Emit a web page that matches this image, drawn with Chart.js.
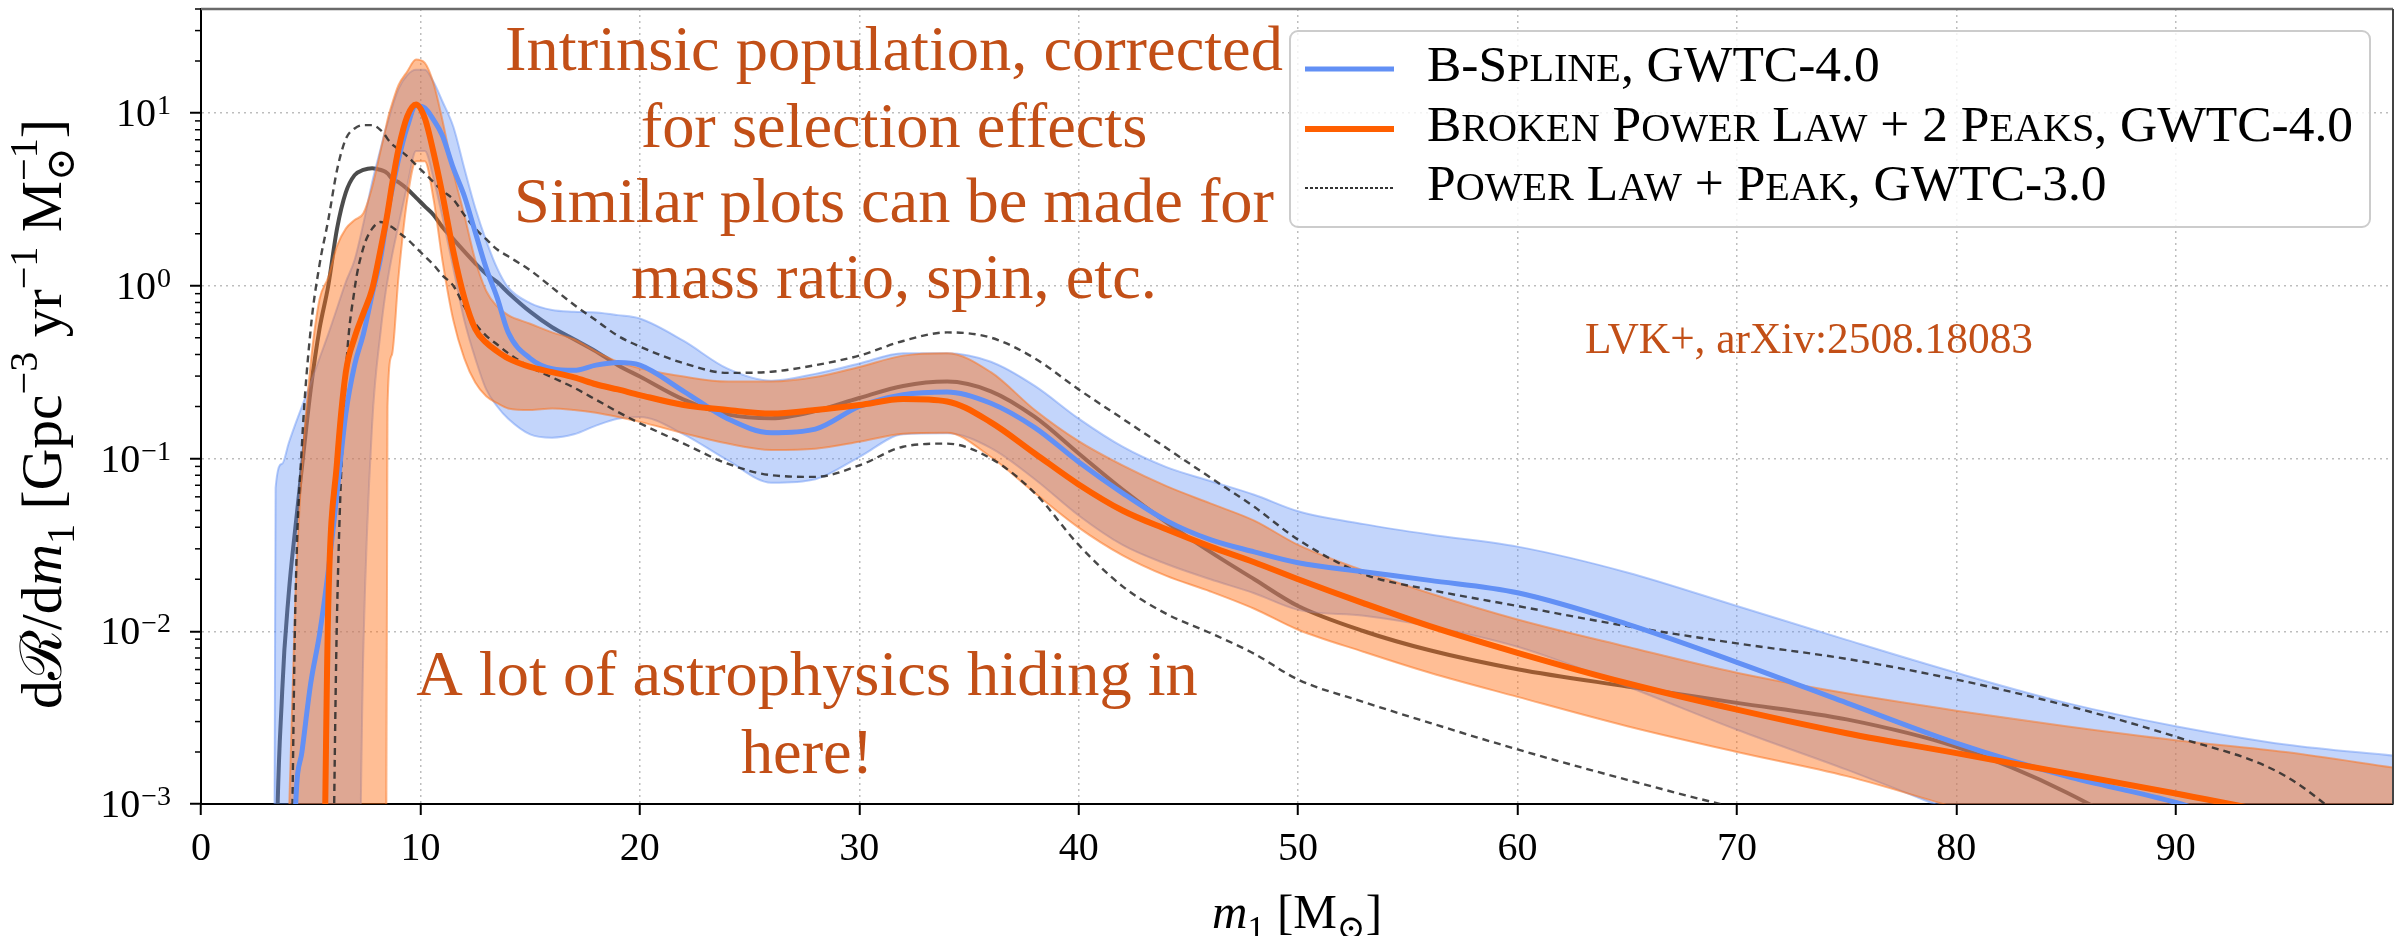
<!DOCTYPE html>
<html>
<head>
<meta charset="utf-8">
<script src="https://cdn.jsdelivr.net/npm/chart.js@4.4.1/dist/chart.umd.min.js"></script>
<style>
html,body{margin:0;padding:0;background:#ffffff;}
canvas{display:block;}
</style>
</head>
<body>
<canvas id="c" width="2407" height="936"></canvas>
<script>
// ---------------- data ----------------
const mass = [3, 3.3, 3.4, 3.7, 4, 4.3, 4.6, 5, 5.4, 5.8, 6.2, 6.6, 7, 7.4, 7.8, 8.2, 8.4, 8.5, 8.7, 9,
  9.4, 9.8, 10.2, 10.6, 11, 11.5, 12, 12.5, 13, 13.5, 14, 15, 16, 17, 18, 19, 20, 22, 24, 26,
  28, 30, 32, 34, 36, 38, 40, 42, 44, 46, 48, 50, 53, 56, 60, 65, 70, 75, 80, 85, 90, 95, 100];

// B-Spline, GWTC-4.0 : median and 90% band
const bsplineMedian = [1e-5, 1e-5, 1e-5, 1e-5, 1e-5, 8.9e-4, 2.0e-3, 5.0e-3, 9.55e-3, 2.24e-2,
  6.31e-2, 0.182, 0.347, 0.525, 0.891, 1.48, 2.14, 2.63, 3.55, 5.37,
  8.32, 11.0, 10.7, 9.12, 7.41, 4.79, 3.31, 2.04, 1.26, 0.851,
  0.537, 0.380, 0.331, 0.324, 0.347, 0.359, 0.347, 0.245, 0.170, 0.141,
  0.148, 0.200, 0.234, 0.243, 0.209, 0.151, 9.55e-2, 6.31e-2, 4.37e-2, 3.39e-2,
  2.88e-2, 2.49e-2, 2.21e-2, 1.97e-2, 1.67e-2, 1.10e-2, 6.61e-3, 3.85e-3, 2.25e-3, 1.45e-3,
  1.02e-3, 6.3e-4, 4e-4];
const bsplineUpper = [1e-5, 1e-5, 6.76e-2, 9.33e-2, 0.123, 0.158, 0.200, 0.275, 0.380, 0.525,
  0.741, 1.05, 1.41, 2.29, 3.98, 6.31, 7.94, 8.71, 10.7, 13.8,
  16.6, 17.8, 17.8, 15.1, 11.7, 8.32, 4.79, 2.82, 1.82, 1.26,
  0.977, 0.794, 0.724, 0.708, 0.700, 0.676, 0.646, 0.479, 0.331, 0.282,
  0.309, 0.355, 0.407, 0.407, 0.363, 0.263, 0.170, 0.117, 8.91e-2, 7.41e-2,
  6.17e-2, 4.95e-2, 4.17e-2, 3.63e-2, 3.09e-2, 2.19e-2, 1.40e-2, 8.91e-3, 5.75e-3, 3.85e-3,
  2.82e-3, 2.21e-3, 1.9e-3];
const bsplineLower = [1e-5, 1e-5, 1e-5, 1e-5, 1e-5, 1e-5, 1e-5, 1e-5, 1e-5, 1e-5,
  1e-5, 1e-5, 1e-5, 7.94e-3, 0.158, 0.562, 0.891, 1.07, 1.48, 2.24,
  3.80, 6.03, 6.03, 4.17, 2.51, 1.26, 0.631, 0.380, 0.251, 0.200,
  0.170, 0.138, 0.132, 0.138, 0.155, 0.170, 0.174, 0.138, 9.77e-2, 7.24e-2,
  7.59e-2, 0.102, 0.138, 0.140, 0.115, 7.59e-2, 4.68e-2, 3.16e-2, 2.45e-2, 2.0e-2,
  1.66e-2, 1.33e-2, 1.23e-2, 1.07e-2, 8.13e-3, 4.79e-3, 2.69e-3, 1.58e-3, 8.9e-4, 5e-4,
  3.2e-4, 2e-4, 1.3e-4];

// Broken Power Law + 2 Peaks, GWTC-4.0 : median and 90% band
const bplMedian = [1e-5, 1e-5, 1e-5, 1e-5, 1e-5, 1e-5, 1e-5, 1e-5, 1e-5, 1.41e-2,
  9.55e-2, 0.316, 0.501, 0.692, 0.955, 1.66, 2.24, 2.63, 3.80, 6.17,
  9.55, 11.2, 9.33, 5.89, 3.39, 1.58, 0.851, 0.562, 0.468, 0.417,
  0.380, 0.339, 0.316, 0.295, 0.269, 0.251, 0.233, 0.204, 0.191, 0.182,
  0.191, 0.204, 0.221, 0.214, 0.162, 0.107, 7.08e-2, 5.0e-2, 3.89e-2, 3.09e-2,
  2.51e-2, 2.0e-2, 1.45e-2, 1.07e-2, 7.5e-3, 5.0e-3, 3.52e-3, 2.57e-3, 1.97e-3, 1.51e-3,
  1.15e-3, 8.7e-4, 6.8e-4];
const bplUpper = [1e-5, 1e-5, 1e-5, 1e-5, 7.9e-4, 1.58e-2, 8.91e-2, 0.355, 0.832, 1.12,
  1.70, 2.14, 2.40, 2.63, 3.72, 6.17, 7.94, 9.12, 11.2, 14.5,
  17.4, 20.4, 19.5, 14.8, 9.12, 4.57, 2.57, 1.41, 0.933, 0.759,
  0.676, 0.603, 0.537, 0.490, 0.417, 0.363, 0.333, 0.298, 0.279, 0.279,
  0.296, 0.339, 0.394, 0.407, 0.316, 0.191, 0.126, 9.12e-2, 6.92e-2, 5.5e-2,
  4.37e-2, 3.16e-2, 2.24e-2, 1.66e-2, 1.17e-2, 8.13e-3, 5.75e-3, 4.37e-3, 3.47e-3, 2.82e-3,
  2.34e-3, 2.0e-3, 1.62e-3];
const bplLower = [1e-5, 1e-5, 1e-5, 1e-5, 1e-5, 1e-5, 1e-5, 1e-5, 1e-5, 1e-5,
  1e-5, 1e-5, 1e-5, 1e-5, 1e-5, 1e-5, 1e-5, 0.200, 0.398, 1.12,
  3.16, 5.25, 5.25, 3.16, 1.41, 0.631, 0.380, 0.275, 0.229, 0.209,
  0.195, 0.191, 0.195, 0.191, 0.184, 0.174, 0.163, 0.140, 0.122, 0.112,
  0.114, 0.125, 0.139, 0.141, 0.102, 6.31e-2, 3.98e-2, 2.75e-2, 2.09e-2, 1.70e-2,
  1.35e-2, 1.02e-2, 7.59e-3, 5.75e-3, 4.17e-3, 2.82e-3, 2.0e-3, 1.45e-3, 9.5e-4, 6.3e-4,
  4e-4, 2.5e-4, 1.6e-4];

// Power Law + Peak, GWTC-3.0 : median (solid) and 90% bounds (dashed)
const plpMedian = [1e-5, 1e-5, 2.5e-4, 4.47e-3, 1.66e-2, 3.98e-2, 8.91e-2, 0.251, 0.562, 1.0,
  2.14, 3.47, 4.37, 4.68, 4.79, 4.68, 4.57, 4.47, 4.17, 3.98,
  3.63, 3.24, 2.88, 2.57, 2.19, 1.86, 1.58, 1.35, 1.17, 1.05,
  0.912, 0.708, 0.575, 0.490, 0.417, 0.347, 0.298, 0.219, 0.180, 0.171,
  0.188, 0.224, 0.263, 0.279, 0.245, 0.174, 0.107, 6.61e-2, 4.27e-2, 2.88e-2,
  2.0e-2, 1.40e-2, 1.0e-2, 7.76e-3, 6.03e-3, 4.79e-3, 3.85e-3, 3.09e-3, 2.14e-3, 1.17e-3,
  5e-4, 1.6e-4, 5e-5];
const plpUpper = [1e-5, 1e-5, 1e-5, 1e-5, 3.2e-5, 1.41e-2, 0.120, 0.562, 1.32, 2.40,
  4.68, 7.08, 8.13, 8.51, 8.51, 7.94, 7.41, 7.08, 6.61, 6.17,
  5.62, 5.01, 4.47, 3.98, 3.55, 3.16, 2.57, 2.14, 1.86, 1.62,
  1.48, 1.23, 0.977, 0.776, 0.631, 0.513, 0.445, 0.356, 0.313, 0.318,
  0.347, 0.394, 0.479, 0.537, 0.501, 0.380, 0.251, 0.170, 0.115, 7.76e-2,
  5.25e-2, 3.39e-2, 2.14e-2, 1.74e-2, 1.40e-2, 1.07e-2, 8.51e-3, 6.92e-3, 5.25e-3, 3.72e-3,
  2.45e-3, 1.45e-3, 4.5e-4];
const plpLower = [1e-5, 1e-5, 1e-5, 1e-5, 1e-5, 1e-5, 1e-5, 1e-5, 1e-5, 1e-5,
  1.26e-2, 0.302, 0.955, 1.66, 2.14, 2.34, 2.29, 2.24, 2.19, 2.04,
  1.86, 1.66, 1.48, 1.32, 1.15, 1.0, 0.759, 0.603, 0.513, 0.457,
  0.407, 0.339, 0.295, 0.257, 0.219, 0.186, 0.160, 0.122, 9.33e-2, 8.0e-2,
  7.83e-2, 9.12e-2, 0.117, 0.122, 0.100, 6.31e-2, 3.16e-2, 1.82e-2, 1.26e-2, 9.77e-3,
  7.41e-3, 5.25e-3, 3.89e-3, 2.95e-3, 2.07e-3, 1.38e-3, 9.5e-4, 7.1e-4, 5e-4, 4e-4,
  3.2e-4, 2.5e-4, 2e-4];

// ticks and texts
const xTickValues = [0, 10, 20, 30, 40, 50, 60, 70, 80, 90];
const yMajorTicks = [1e-3, 1e-2, 1e-1, 1, 10];
const yExponents = ['\u22123', '\u22122', '\u22121', '0', '1'];
const legendLabels = ['B-Spline, GWTC-4.0', 'Broken Power Law + 2 Peaks, GWTC-4.0', 'Power Law + Peak, GWTC-3.0'];
const noteTopLines = ['Intrinsic population, corrected', 'for selection effects', 'Similar plots can be made for', 'mass ratio, spin, etc.'];
const noteBottomLines = ['A lot of astrophysics hiding in', 'here!'];
const noteRef = 'LVK+, arXiv:2508.18083';

// ---------------- styling ----------------
const SERIF = "'Liberation Serif', 'DejaVu Serif', serif";
const BLUE = '#6290f5';
const ORANGE = '#ff5f00';
const NOTE = '#c24f17';
const GRID = '#bdbdbd';

const yMinorTicks = [];
yMajorTicks.forEach(b => { for (let k = 2; k <= 9; k++) { const v = b * k; if (v <= 40) yMinorTicks.push(v); } });
const isMajor = v => yMajorTicks.some(m => Math.abs(v / m - 1) < 1e-9);

const toXY = ys => mass.map((m, i) => ({ x: m, y: ys[i] }));
const base = { pointRadius: 0, pointHoverRadius: 0, cubicInterpolationMode: 'monotone', fill: false, clip: 0 };

function drawRich(ctx, segs, x, y, size, draw) {
  let cx = x, lastStart = x;
  for (const s of segs) {
    const fs = (s.sub || s.sup) ? size * 0.7 : size;
    ctx.font = (s.it ? 'italic ' : '') + fs + 'px ' + SERIF;
    const w = ctx.measureText(s.t).width;
    const sx = s.over ? lastStart : cx;
    const dy = s.sub ? size * 0.22 : (s.sup ? -size * 0.42 : 0);
    if (draw) ctx.fillText(s.t, sx, y + dy);
    if (s.over) { cx = Math.max(cx, sx + w); } else { lastStart = sx; cx = sx + w; }
  }
  return cx - x;
}
function drawSC(ctx, text, x, y, size, draw) {
  const runs = [];
  for (const ch of text) {
    const small = ch !== ch.toUpperCase();
    const t = small ? ch.toUpperCase() : ch;
    if (runs.length && runs[runs.length - 1].small === small) runs[runs.length - 1].t += t;
    else runs.push({ t, small });
  }
  let w = 0;
  for (const r of runs) {
    ctx.font = (r.small ? size * 0.78 : size) + 'px ' + SERIF;
    if (draw) ctx.fillText(r.t, x + w, y);
    w += ctx.measureText(r.t).width;
  }
  return w;
}
function fitSize(ctx, text, target) {
  ctx.font = '50px ' + SERIF;
  return 50 * target / ctx.measureText(text).width;
}

const ySegs = [{ t: 'd' }, { t: '\u211B' }, { t: '/d' }, { t: 'm', it: true }, { t: '1', sub: true },
  { t: ' [Gpc' }, { t: '\u22123', sup: true }, { t: ' yr' }, { t: '\u22121', sup: true }, { t: ' M' },
  { t: '\u2299', sub: true }, { t: '\u22121', sup: true, over: true }, { t: ']' }];
const xSegs = [{ t: 'm', it: true }, { t: '1', sub: true }, { t: ' [M' }, { t: '\u2299', sub: true }, { t: ']' }];

const decor = {
  id: 'decor',
  afterDraw(chart) {
    const ctx = chart.ctx, ca = chart.chartArea, ys = chart.scales.y;
    ctx.save();
    // top and right spines
    ctx.lineWidth = 2.5; ctx.strokeStyle = '#6a6a6a';
    ctx.beginPath(); ctx.moveTo(ca.left, ca.top); ctx.lineTo(ca.right, ca.top); ctx.stroke();
    ctx.strokeStyle = '#444'; ctx.lineWidth = 2;
    ctx.beginPath(); ctx.moveTo(ca.right, ca.top); ctx.lineTo(ca.right, ca.bottom); ctx.stroke();
    // minor y ticks
    ctx.strokeStyle = '#000'; ctx.lineWidth = 1.5;
    yMinorTicks.forEach(v => {
      const y = ys.getPixelForValue(v);
      ctx.beginPath(); ctx.moveTo(ca.left - 6, y); ctx.lineTo(ca.left, y); ctx.stroke();
    });
    // y tick labels 10^n
    ctx.fillStyle = '#000'; ctx.textBaseline = 'alphabetic'; ctx.textAlign = 'left';
    yMajorTicks.forEach((v, i) => {
      const y = ys.getPixelForValue(v);
      ctx.font = '40px ' + SERIF; const w1 = ctx.measureText('10').width;
      ctx.font = '28px ' + SERIF; const w2 = ctx.measureText(yExponents[i]).width;
      const x0 = ca.left - 31 - w1 - w2;
      ctx.font = '40px ' + SERIF; ctx.fillText('10', x0, y + 13);
      ctx.font = '28px ' + SERIF; ctx.fillText(yExponents[i], x0 + w1 + 1, y + 1);
    });
    // axis titles
    let s = 46 * 590 / drawRich(ctx, ySegs, 0, 0, 46, false);
    ctx.save(); ctx.translate(61, 414); ctx.rotate(-Math.PI / 2);
    const wy = drawRich(ctx, ySegs, 0, 0, s, false);
    drawRich(ctx, ySegs, -wy / 2, 0, s, true);
    ctx.restore();
    s = 46 * 170 / drawRich(ctx, xSegs, 0, 0, 46, false);
    const wx = drawRich(ctx, xSegs, 0, 0, s, false);
    drawRich(ctx, xSegs, (ca.left + ca.right) / 2 - wx / 2, 928, s, true);
    // annotations
    ctx.fillStyle = NOTE; ctx.textAlign = 'center';
    const ns = fitSize(ctx, noteTopLines[0], 778);
    ctx.font = ns + 'px ' + SERIF;
    [70, 147, 222, 298].forEach((by, i) => ctx.fillText(noteTopLines[i], 894, by));
    [695, 773].forEach((by, i) => ctx.fillText(noteBottomLines[i], 807, by));
    const rs = fitSize(ctx, noteRef, 448);
    ctx.font = rs + 'px ' + SERIF;
    ctx.fillText(noteRef, 1809, 353);
    // legend
    ctx.textAlign = 'left';
    const lx = 1290, ly = 31, lw = 1080, lh = 196;
    ctx.beginPath(); ctx.roundRect(lx, ly, lw, lh, 8);
    ctx.fillStyle = 'rgba(255,255,255,0.8)'; ctx.fill();
    ctx.strokeStyle = '#cccccc'; ctx.lineWidth = 2; ctx.stroke();
    const ls = 38 * 926 / drawSC(ctx, legendLabels[1], 0, 0, 38, false);
    const rows = [69, 129, 188];
    const styles = [{ c: BLUE, w: 5, d: [] }, { c: ORANGE, w: 6, d: [] }, { c: '#333', w: 1.8, d: [3, 2] }];
    rows.forEach((ry, i) => {
      ctx.strokeStyle = styles[i].c; ctx.lineWidth = styles[i].w; ctx.setLineDash(styles[i].d);
      ctx.beginPath(); ctx.moveTo(1305, ry); ctx.lineTo(1394, ry); ctx.stroke();
      ctx.setLineDash([]);
      ctx.fillStyle = '#000';
      drawSC(ctx, legendLabels[i], 1427, ry + 12, ls, true);
    });
    ctx.restore();
  }
};

new Chart(document.getElementById('c'), {
  type: 'line',
  data: {
    datasets: [
      { ...base, label: 'bplMedian', data: toXY(bplMedian), borderColor: ORANGE, borderWidth: 6 },
      { ...base, label: 'bsplineMedian', data: toXY(bsplineMedian), borderColor: BLUE, borderWidth: 5 },
      { ...base, label: 'plpUpper', data: toXY(plpUpper), borderColor: 'rgba(40,40,40,0.85)', borderWidth: 2.4, borderDash: [7, 5] },
      { ...base, label: 'plpLower', data: toXY(plpLower), borderColor: 'rgba(40,40,40,0.85)', borderWidth: 2.4, borderDash: [7, 5] },
      { ...base, label: 'bplUpper', data: toXY(bplUpper), borderColor: 'rgba(250,120,40,0.55)', borderWidth: 2,
        fill: '+1', backgroundColor: 'rgba(255,110,20,0.45)' },
      { ...base, label: 'bplLower', data: toXY(bplLower), borderColor: 'rgba(250,120,40,0.55)', borderWidth: 2 },
      { ...base, label: 'bsplineUpper', data: toXY(bsplineUpper), borderColor: 'rgba(98,144,245,0.45)', borderWidth: 2,
        fill: '+1', backgroundColor: 'rgba(98,144,245,0.38)' },
      { ...base, label: 'bsplineLower', data: toXY(bsplineLower), borderColor: 'rgba(98,144,245,0.45)', borderWidth: 2 },
      { ...base, label: 'plpMedian', data: toXY(plpMedian), borderColor: 'rgba(45,45,45,0.85)', borderWidth: 4 }
    ]
  },
  options: {
    responsive: false,
    animation: false,
    events: [],
    devicePixelRatio: 1,
    layout: { padding: { left: 0, right: 14, top: 9, bottom: 0 } },
    plugins: { legend: { display: false }, tooltip: { enabled: false } },
    scales: {
      x: {
        type: 'linear', min: 0, max: 99.9,
        afterBuildTicks: s => { s.ticks = xTickValues.map(v => ({ value: v })); },
        ticks: { color: '#000', padding: 10, maxRotation: 0, autoSkip: false,
          callback: v => String(Math.round(v)),
          font: { family: SERIF, size: 40 } },
        grid: { color: GRID, lineWidth: 1.5, tickColor: '#000', tickLength: 11, tickWidth: 2 },
        border: { color: '#000', width: 2, dash: [2, 4] },
        afterFit: s => { s.height = 132; }
      },
      y: {
        type: 'logarithmic', min: 1e-3, max: 40,
        afterBuildTicks: s => { s.ticks = [...yMajorTicks, ...yMinorTicks].sort((a, b) => a - b).map(v => ({ value: v })); },
        ticks: { display: false },
        grid: {
          color: c => (c.tick && isMajor(c.tick.value)) ? GRID : 'rgba(0,0,0,0)',
          tickColor: c => (c.tick && isMajor(c.tick.value)) ? '#000' : 'rgba(0,0,0,0)',
          lineWidth: 1.5, tickLength: 11, tickWidth: 2
        },
        border: { color: '#000', width: 2, dash: [2, 4] },
        afterFit: s => { s.width = 201; }
      }
    }
  },
  plugins: [decor]
});
</script>
</body>
</html>
